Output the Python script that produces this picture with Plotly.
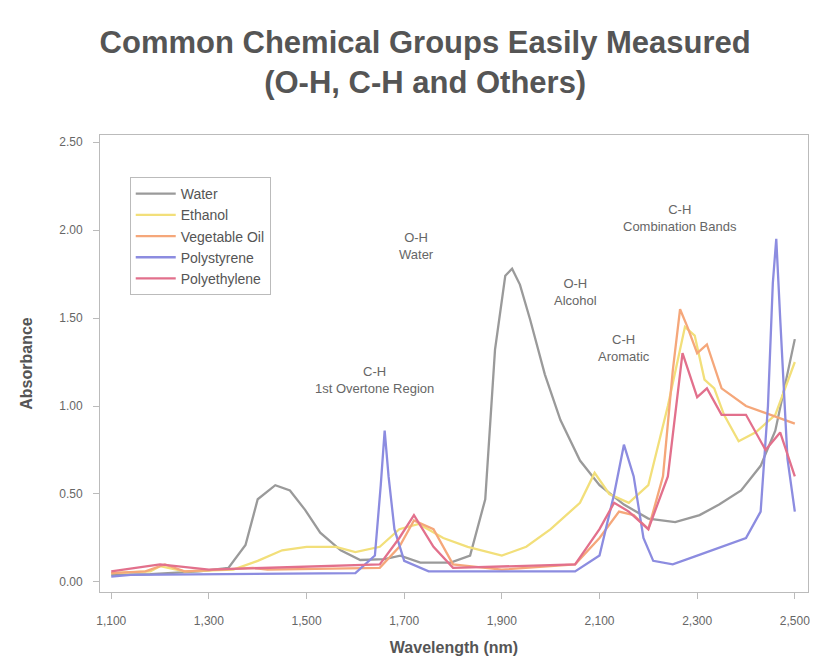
import plotly.graph_objects as go

# ---- data ----
water_nm = [1100, 1180, 1280, 1340, 1375, 1400, 1436, 1466, 1497, 1528, 1570, 1610, 1660, 1692, 1733, 1795,
            1835, 1866, 1886, 1907, 1921, 1937, 1958, 1988, 2020, 2060, 2100, 2150, 2200, 2255, 2305, 2345,
            2390, 2430, 2460, 2490, 2500]
water_abs = [0.04, 0.045, 0.06, 0.08, 0.21, 0.47, 0.55, 0.52, 0.41, 0.28, 0.18, 0.125, 0.13, 0.15, 0.11, 0.11,
             0.15, 0.47, 1.32, 1.74, 1.78, 1.69, 1.49, 1.18, 0.92, 0.69, 0.55, 0.44, 0.36, 0.34, 0.38, 0.44,
             0.52, 0.66, 0.86, 1.26, 1.38]

ethanol_nm = [1100, 1180, 1200, 1250, 1350, 1400, 1450, 1500, 1560, 1600, 1650, 1690, 1730, 1780, 1830, 1900,
              1950, 2000, 2060, 2090, 2120, 2160, 2200, 2240, 2275, 2295, 2315, 2335, 2355, 2385, 2420, 2460, 2500]
ethanol_abs = [0.05, 0.06, 0.09, 0.06, 0.07, 0.12, 0.18, 0.20, 0.20, 0.17, 0.20, 0.30, 0.33, 0.25, 0.20, 0.15,
               0.20, 0.30, 0.45, 0.62, 0.50, 0.45, 0.55, 1.00, 1.45, 1.40, 1.15, 1.10, 0.95, 0.80, 0.85, 0.95, 1.25]

oil_nm = [1100, 1170, 1210, 1250, 1390, 1420, 1650, 1690, 1720, 1760, 1800, 1900, 2050, 2100, 2140, 2170,
          2200, 2230, 2250, 2265, 2280, 2300, 2320, 2350, 2400, 2450, 2500]
oil_abs = [0.05, 0.06, 0.10, 0.06, 0.08, 0.07, 0.08, 0.20, 0.35, 0.30, 0.10, 0.07, 0.10, 0.25, 0.40, 0.38,
           0.30, 0.60, 1.20, 1.55, 1.45, 1.30, 1.35, 1.10, 1.00, 0.95, 0.90]

polystyrene_nm = [1100, 1140, 1600, 1640, 1652, 1660, 1668, 1680, 1700, 1750, 2050, 2100, 2130, 2150, 2170,
                  2190, 2210, 2250, 2300, 2350, 2400, 2430, 2445, 2455, 2462, 2470, 2485, 2500]
polystyrene_abs = [0.03, 0.04, 0.05, 0.15, 0.55, 0.86, 0.60, 0.30, 0.12, 0.06, 0.06, 0.15, 0.50, 0.78, 0.60,
                   0.25, 0.12, 0.10, 0.15, 0.20, 0.25, 0.40, 1.00, 1.70, 1.95, 1.50, 0.70, 0.40]

polyethylene_nm = [1100, 1200, 1300, 1650, 1690, 1720, 1760, 1800, 2050, 2100, 2130, 2160, 2200, 2240,
                   2270, 2300, 2320, 2350, 2400, 2440, 2470, 2500]
polyethylene_abs = [0.06, 0.10, 0.07, 0.10, 0.25, 0.38, 0.20, 0.08, 0.10, 0.30, 0.45, 0.40, 0.30, 0.60,
                    1.30, 1.05, 1.10, 0.95, 0.95, 0.75, 0.85, 0.60]

series_names = ["Water", "Ethanol", "Vegetable Oil", "Polystyrene", "Polyethylene"]
series_x = [water_nm, ethanol_nm, oil_nm, polystyrene_nm, polyethylene_nm]
series_y = [water_abs, ethanol_abs, oil_abs, polystyrene_abs, polyethylene_abs]
series_colors = ["#9a9a9a", "#f2df7a", "#f5a77a", "#8c8ce0", "#e2708c"]

x_ticks = [1100, 1300, 1500, 1700, 1900, 2100, 2300, 2500]
y_ticks = [0.0, 0.5, 1.0, 1.5, 2.0, 2.5]

band_labels = ["C-H<br>1st Overtone Region", "O-H<br>Water", "O-H<br>Alcohol", "C-H<br>Aromatic", "C-H<br>Combination Bands"]
band_x = [1640, 1725, 2050, 2150, 2265]
band_y = [1.15, 1.91, 1.65, 1.33, 2.07]

fig = go.Figure()
for name, xs, ys, col in zip(series_names, series_x, series_y, series_colors):
    fig.add_trace(go.Scatter(x=xs, y=ys, mode="lines", name=name,
                             line=dict(color=col, width=2.3)))

for txt, bx, by in zip(band_labels, band_x, band_y):
    fig.add_annotation(x=bx, y=by, text=txt, showarrow=False,
                       font=dict(family="Arial, Liberation Sans", size=13, color="#666666"))

fig.update_layout(
    width=818, height=671,
    margin=dict(l=92, r=18, t=127, b=87),
    paper_bgcolor="white", plot_bgcolor="white",
    font=dict(family="Arial, Liberation Sans", color="#666666"),
    title=dict(text="<b>Common Chemical Groups Easily Measured<br>(O-H, C-H and Others)</b>",
               x=0.51, xanchor="center", xref="container",
               y=0.933, yanchor="middle", yref="container",
               font=dict(size=31, color="#555555")),
    legend=dict(x=0.042, y=0.908, xanchor="left", yanchor="top",
                bgcolor="white", bordercolor="#bbbbbb", borderwidth=1, itemwidth=40,
                font=dict(size=14, color="#555555")),
    showlegend=True,
)
fig.update_xaxes(range=[1077, 2527], tickvals=x_ticks, tickformat=",",
                 showgrid=False, zeroline=False, showline=True, mirror=True,
                 linecolor="#bbbbbb", ticks="outside", tickcolor="#bbbbbb", ticklen=6,
                 ticklabelstandoff=12,
                 tickfont=dict(size=12, color="#666666"),
                 title=dict(text="<b>Wavelength (nm)</b>", standoff=14,
                            font=dict(size=16, color="#555555")))
fig.update_yaxes(range=[-0.057, 2.54], tickvals=y_ticks, tickformat=".2f",
                 showgrid=False, zeroline=False, showline=True, mirror=True,
                 linecolor="#bbbbbb", ticks="outside", tickcolor="#bbbbbb", ticklen=6,
                 ticklabelstandoff=8,
                 tickfont=dict(size=12, color="#666666"),
                 title=dict(text="<b>Absorbance</b>", standoff=22,
                            font=dict(size=16, color="#555555")))

fig.write_html("out.html")
